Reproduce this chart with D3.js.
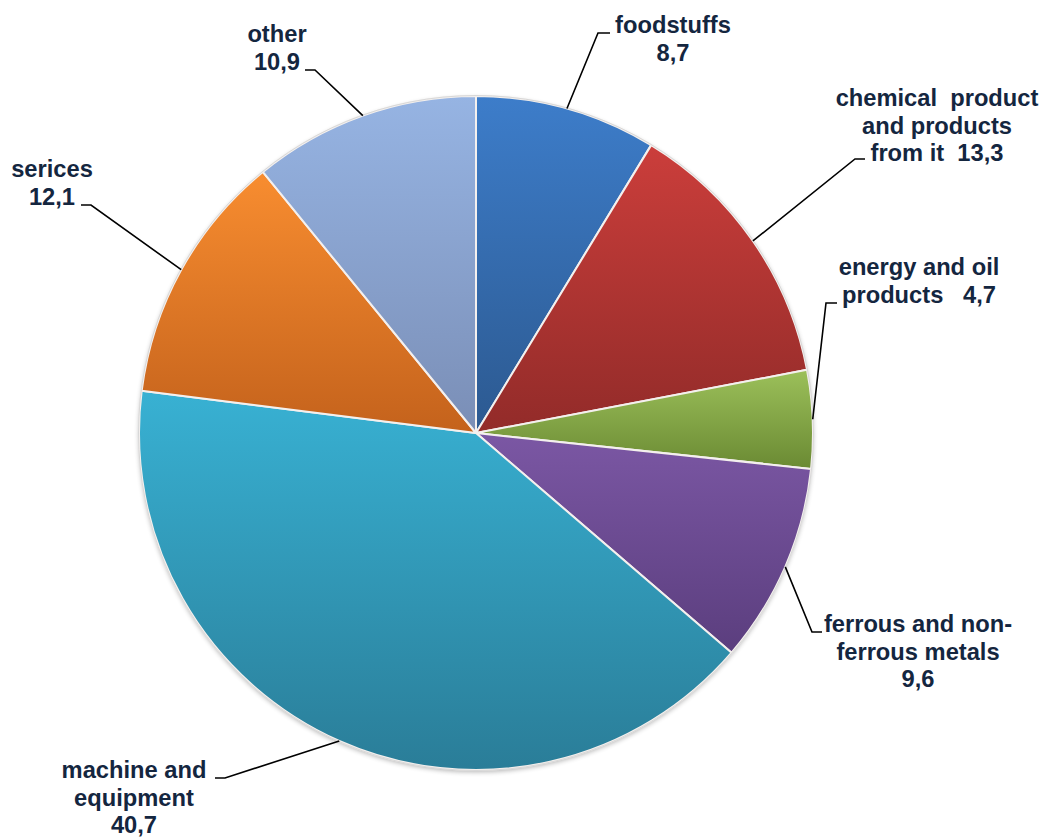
<!DOCTYPE html>
<html><head><meta charset="utf-8">
<script src="https://cdn.jsdelivr.net/npm/d3@7"></script>
<style>html,body{margin:0;padding:0;background:#fff;}svg{display:block;}</style>
</head><body>
<svg id="c" width="1045" height="837"></svg>
<script>
const categories = ["foodstuffs","chemical  product and products from it","energy and oil products","ferrous and non-ferrous metals","machine and equipment","serices","other"];
const values = [8.7, 13.3, 4.7, 9.6, 40.7, 12.1, 10.9];
const valueLabels = ["8,7","13,3","4,7","9,6","40,7","12,1","10,9"];
const labelLines = [
  ["foodstuffs","8,7"],
  ["chemical  product","and products","from it  13,3"],
  ["energy and oil","products   4,7"],
  ["ferrous and non-","ferrous metals","9,6"],
  ["machine and","equipment","40,7"],
  ["serices","12,1"],
  ["other","10,9"]
];
const topColors = ["#3d7dca","#cb3e3b","#9cc05a","#7b57a4","#38b1d3","#f88d30","#96b4e3"];
const bottomColors = ["#2c5990","#922b29","#6a8a33","#5b3e7e","#2a7d98","#c4621c","#7a8eb6"];

const svg = d3.select("#c");
const cx = 476, cy = 433, R = 337;
const defs = svg.append("defs");
topColors.forEach((c,i)=>{
  const g = defs.append("linearGradient").attr("id","g"+i).attr("x1",0).attr("y1",0).attr("x2",0).attr("y2",1);
  g.append("stop").attr("offset","0%").attr("stop-color",c);
  g.append("stop").attr("offset","100%").attr("stop-color",bottomColors[i]);
});
const f = defs.append("filter").attr("id","sh").attr("x","-10%").attr("y","-10%").attr("width","120%").attr("height","120%");
f.append("feGaussianBlur").attr("in","SourceAlpha").attr("stdDeviation",2.5).attr("result","b");
f.append("feOffset").attr("in","b").attr("dx",0).attr("dy",2).attr("result","o");
f.append("feComponentTransfer").attr("in","o").attr("result","o2").append("feFuncA").attr("type","linear").attr("slope",0.3);
const m = f.append("feMerge"); m.append("feMergeNode").attr("in","o2"); m.append("feMergeNode").attr("in","SourceGraphic");

const pie = d3.pie().sort(null).value(d=>d);
const arcs = pie(values);
const arc = d3.arc().innerRadius(0).outerRadius(R);
const g = svg.append("g").attr("transform",`translate(${cx},${cy})`);
g.append("circle").attr("r",R).attr("fill","#fff").attr("filter","url(#sh)");
g.selectAll("path.s").data(arcs).join("path").attr("class","s")
  .attr("d",arc).attr("fill",(d,i)=>`url(#g${i})`)
  .attr("stroke","#f4f0ee").attr("stroke-width",2).attr("stroke-linejoin","round");
g.append("circle").attr("r",R+0.5).attr("fill","none").attr("stroke","#d8d8d8").attr("stroke-width",1);

// label layout: [centerX, firstBaseline, elbowX, elbowY, horizontal end X]
const labelPos = [
  [673, 33, 598, 33, 610],
  [937, 106, 855, 159, 865],
  [919, 275, 826, 303, 837],
  [918, 632, 812, 632, 822],
  [134, 778, 215, 778, 225],
  [52, 177, 81, 205, 91],
  [277, 42, 305, 70, 315]
];
const lineH = 27.5;
arcs.forEach((a,i)=>{
  const mid = (a.startAngle+a.endAngle)/2;
  const px = cx + R*Math.sin(mid), py = cy - R*Math.cos(mid);
  const [tx,ty,ex,ey,hx] = labelPos[i];
  const startX = (i===4||i===5||i===6) ? hx : ex;
  const endX = (i===4||i===5||i===6) ? ex : hx;
  svg.append("polyline").attr("points",`${px},${py} ${startX},${ey} ${endX},${ey}`)
    .attr("fill","none").attr("stroke","#000").attr("stroke-width",1.6);
  const t = svg.append("text").attr("x",tx).attr("y",ty).attr("text-anchor","middle")
    .attr("font-family","'Liberation Sans', Arial, sans-serif").attr("font-weight","bold")
    .attr("font-size",23.7).attr("fill","#14263f").attr("xml:space","preserve");
  labelLines[i].forEach((ln,j)=>{
    t.append("tspan").attr("x",tx).attr("y",ty+j*lineH).text(ln);
  });
});
</script>
</body></html>
